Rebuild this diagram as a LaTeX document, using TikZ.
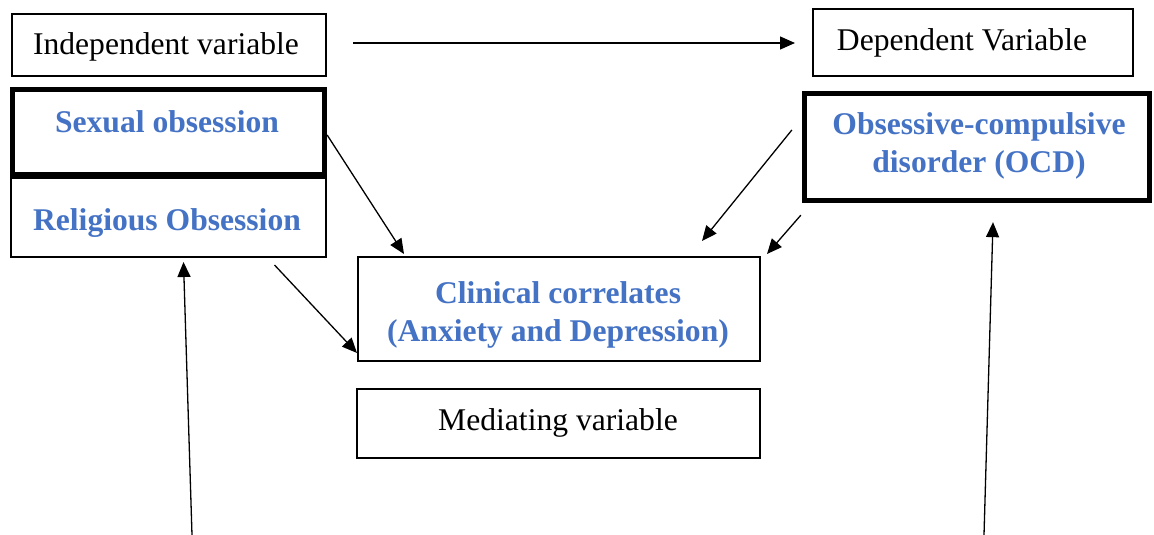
\documentclass[tikz,border=0pt]{standalone}
\usepackage{fontspec}
\setmainfont{Liberation Serif}
\usetikzlibrary{arrows.meta,calc}
\definecolor{accent}{HTML}{4472C4}

\begin{document}
\begin{tikzpicture}[x=1pt,y=-1pt,
  box/.style={draw, line width=2pt, rectangle, inner sep=0pt},
  heavybox/.style={draw, line width=4.8pt, rectangle, inner sep=0pt},
  plaintext/.style={inner sep=0pt, font=\fontsize{31.6}{38}\selectfont},
  accenttext/.style={inner sep=0pt, align=center, text=accent,
    font=\fontsize{31.6}{38}\selectfont\bfseries},
  link/.style={line width=1.3pt, -{Triangle[length=15pt,width=13pt]}}]

\useasboundingbox (0,0) rectangle (1154,535);

% left column: independent variables
\node[box, minimum width=314pt, minimum height=62pt] (indep) at (169,45) {};
\node[plaintext] (indeptxt) at (166,47) {Independent variable};
\node[box, minimum width=315pt, minimum height=79pt] (relig) at (168.5,217.5) {};
\node[heavybox, minimum width=312.5pt, minimum height=85.5pt] (sex) at (168.5,132) {};
\node[accenttext] (sextxt) at (167,122) {Sexual obsession};
\node[accenttext] (religtxt) at (167,223) {Religious Obsession};

% right column: dependent variable
\node[box, minimum width=320pt, minimum height=67pt] (dep) at (973,42.5) {};
\node[plaintext] (deptxt) at (962,43) {Dependent Variable};
\node[heavybox, minimum width=345.5pt, minimum height=107.5pt] (ocd) at (977,147) {};
\node[accenttext] (ocdtxt) at (979,146) {Obsessive-compulsive\\disorder (OCD)};

% centre: mediating variable
\node[box, minimum width=402pt, minimum height=104pt] (clin) at (559,309) {};
\node[accenttext] (clintxt) at (558,315) {Clinical correlates\\(Anxiety and Depression)};
\node[box, minimum width=403pt, minimum height=69pt] (med) at (558.5,423.5) {};
\node[plaintext] (medtxt) at (558,423) {Mediating variable};

% free ends of the two long upward arrows
\coordinate (footL) at (192,535);
\coordinate (footR) at (984,535);

% connectors
\draw[link] ($(indep.east)+(26,-2)$) -- ($(dep.west)+(-17,0.5)$);
\draw[link] ($(sex.east)+(0,3)$) -- ($(clin.north west)+(47,-2)$);
\draw[link] ($(relig.south)+(106,7)$) -- ($(clin.south west)+(0,-9)$);
\draw[link] ($(ocd.west)+(-10,-17)$) -- ($(clin.north)+(143,-15)$);
\draw[link] ($(ocd.south west)+(-1,12)$) -- ($(clin.north east)+(6,-2)$);
\draw[link] (footL) -- ($(relig.south)+(15,4)$);
\draw[link] (footR) -- ($(ocd.south)+(16,19)$);
\end{tikzpicture}
\end{document}
